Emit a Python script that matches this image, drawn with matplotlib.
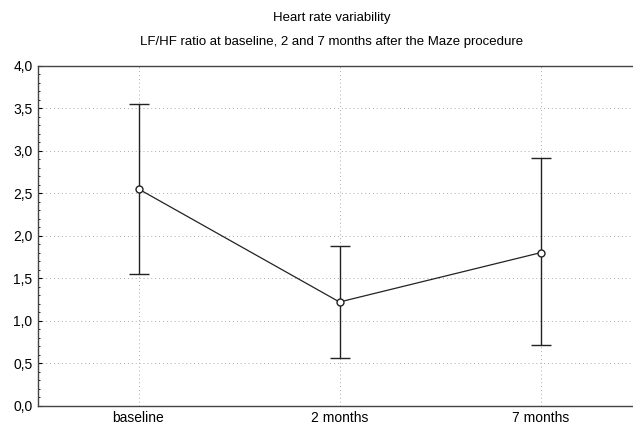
import matplotlib
matplotlib.use("Agg")
import matplotlib.pyplot as plt
from matplotlib.ticker import MultipleLocator, FuncFormatter

plt.rcParams['font.family'] = ['Liberation Sans', 'DejaVu Sans']

categories = ["baseline", "2 months", "7 months"]
means = [2.55, 1.22, 1.80]
upper = [3.55, 1.88, 2.91]
lower = [1.55, 0.56, 0.71]

err_low = [m - l for m, l in zip(means, lower)]
err_high = [u - m for m, u in zip(means, upper)]

fig = plt.figure(figsize=(6.33, 4.28), dpi=100)
ax = fig.add_axes([38 / 633, 1 - 405.7 / 428, 603 / 633, (405.7 - 65.7) / 428])

x = list(range(len(categories)))
ax.errorbar(x, means, yerr=[err_low, err_high], fmt='-o', color='#222222',
            lw=0.9, elinewidth=1.0, capsize=7.5, capthick=1.0,
            markersize=5, markerfacecolor='white', markeredgecolor='#222222',
            markeredgewidth=1.0, zorder=3)

ax.set_xlim(-0.5, 2.5)
ax.set_ylim(0, 4.0)
ax.set_xticks(x)
ax.set_xticklabels(categories, fontsize=10)
ax.yaxis.set_major_locator(MultipleLocator(0.5))
ax.yaxis.set_minor_locator(MultipleLocator(0.1))
ax.yaxis.set_major_formatter(FuncFormatter(lambda v, p: f"{v:.1f}".replace('.', ',')))
ax.tick_params(axis='y', labelsize=10, length=3, width=0.8, direction='in', pad=4)
ax.tick_params(axis='y', which='minor', length=1.5, width=0.6, direction='in')
ax.tick_params(axis='x', length=0, pad=4)

ax.grid(True, which='major', linestyle=(0, (1, 3)), color='#aaaaaa', linewidth=0.7)
for side in ['left', 'bottom', 'top', 'right']:
    ax.spines[side].set_color('#444444')
    ax.spines[side].set_linewidth(1.0)

fig.text(332 / 633, 1 - 18 / 428, "Heart rate variability", ha='center', va='center', fontsize=9.5)
fig.text(332 / 633, 1 - 42 / 428, "LF/HF ratio at baseline, 2 and 7 months after the Maze procedure",
         ha='center', va='center', fontsize=9.5)

fig.savefig("out.png", dpi=100)
